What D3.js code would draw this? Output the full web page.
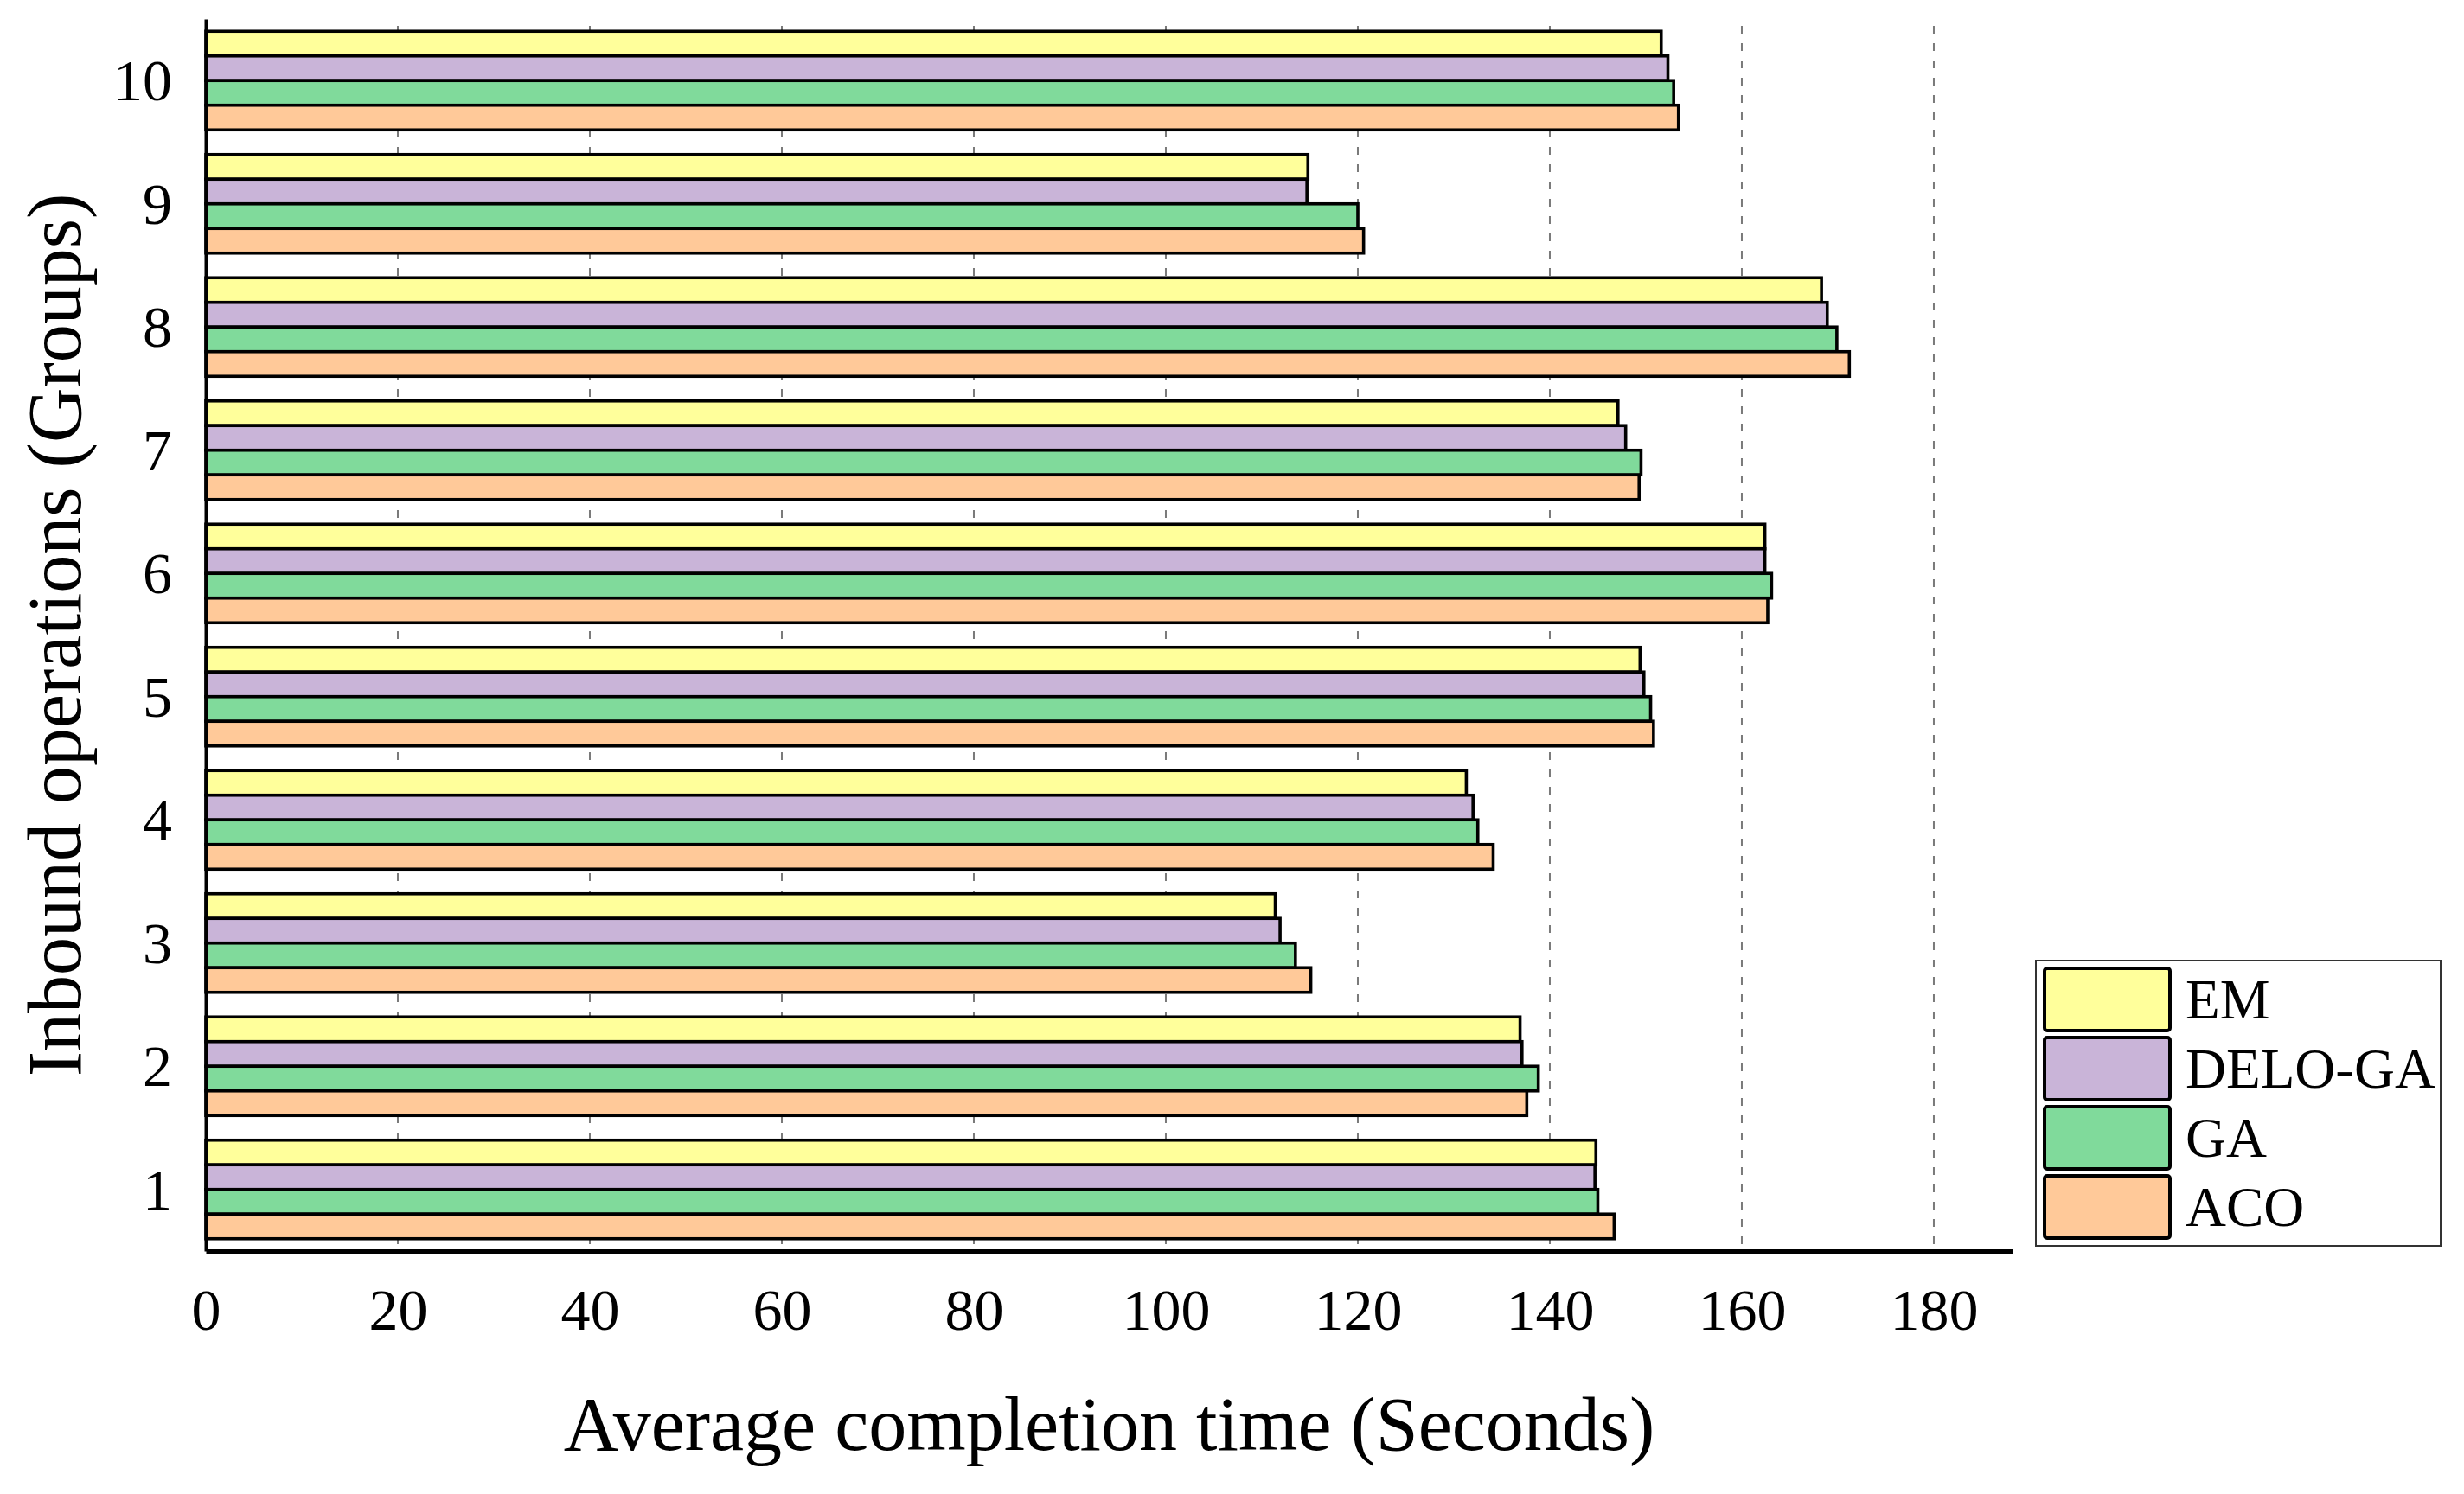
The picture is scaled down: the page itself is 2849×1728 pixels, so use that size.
<!DOCTYPE html>
<html>
<head>
<meta charset="utf-8">
<script src="https://cdn.jsdelivr.net/npm/d3@7"></script>
<style>
  body { margin: 0; background: #fff; }
  text { font-family: 'Liberation Serif', 'Times New Roman', serif; fill: #000; }
</style>
</head>
<body>
<div id="chart"></div>
<script>
const width = 2849
const height = 1728
const margin = { top: 22, right: 522, bottom: 281, left: 238 }

const groups = ['1', '2', '3', '4', '5', '6', '7', '8', '9', '10']
const series = ['EM', 'DELO-GA', 'GA', 'ACO']
const colors = ['#ffff9b', '#c9b4d8', '#80da9b', '#ffc999']
const xTicks = [0, 20, 40, 60, 80, 100, 120, 140, 160, 180]

const emValues = [144.8, 136.9, 111.4, 131.3, 149.4, 162.4, 147.1, 168.3, 114.8, 151.6]
const delogaValues = [144.7, 137.1, 111.9, 132.0, 149.8, 162.4, 147.9, 168.9, 114.7, 152.3]
const gaValues = [145.0, 138.8, 113.5, 132.5, 150.5, 163.1, 149.5, 169.9, 120.0, 152.9]
const acoValues = [146.7, 137.6, 115.1, 134.1, 150.8, 162.7, 149.3, 171.2, 120.6, 153.4]

const valuesBySeries = [emValues, delogaValues, gaValues, acoValues]

const data = groups.flatMap((g, i) =>
  series.map((s, j) => ({ group: g, series: s, value: valuesBySeries[j][i] }))
)

const svg = d3
  .select('#chart')
  .append('svg')
  .attr('width', width)
  .attr('height', height)
  .attr('viewBox', [0, 0, width, height])

const x = d3
  .scaleLinear()
  .domain([0, 188.2])
  .range([margin.left, width - margin.right])

const y = d3
  .scaleBand()
  .domain(groups.slice().reverse())
  .range([margin.top, height - margin.bottom])
  .paddingInner(0.2)
  .paddingOuter(0.1)

const ySub = d3.scaleBand().domain(series).range([0, y.bandwidth()])

const color = d3.scaleOrdinal().domain(series).range(colors)

// dashed grid behind bars
svg
  .append('g')
  .attr('class', 'grid')
  .selectAll('line')
  .data(xTicks.filter(d => d > 0))
  .join('line')
  .attr('x1', d => x(d))
  .attr('x2', d => x(d))
  .attr('y1', margin.top + 8)
  .attr('y2', height - margin.bottom)
  .attr('stroke', '#7a7a7a')
  .attr('stroke-width', 2)
  .attr('stroke-dasharray', '9,11')

svg
  .append('g')
  .attr('class', 'bars')
  .selectAll('rect')
  .data(data)
  .join('rect')
  .attr('x', x(0))
  .attr('y', d => y(d.group) + ySub(d.series))
  .attr('width', d => x(d.value) - x(0))
  .attr('height', ySub.bandwidth())
  .attr('fill', d => color(d.series))
  .attr('stroke', '#000')
  .attr('stroke-width', 3.6)

// x axis
svg
  .append('g')
  .attr('transform', `translate(0,${height - margin.bottom})`)
  .call(d3.axisBottom(x).tickValues(xTicks).tickSize(0).tickPadding(0))
  .call(g => g.select('.domain').attr('stroke', '#000').attr('stroke-width', 5))
  .call(g =>
    g
      .selectAll('text')
      .attr('y', 91)
      .attr('dy', null)
      .attr('font-size', 68)
  )
  .attr('font-family', null)

// y axis
svg
  .append('g')
  .attr('transform', `translate(${margin.left},0)`)
  .call(d3.axisLeft(y).tickSize(0).tickPadding(39))
  .call(g => g.select('.domain').attr('stroke', '#000').attr('stroke-width', 4))
  .call(g =>
    g
      .selectAll('text')
      .attr('dy', '0.34em')
      .attr('font-size', 68)
  )
  .attr('font-family', null)

svg
  .append('text')
  .attr('x', (x.range()[0] + x.range()[1]) / 2)
  .attr('y', 1677)
  .attr('text-anchor', 'middle')
  .attr('font-size', 88)
  .text('Average completion time (Seconds)')

svg
  .append('text')
  .attr('transform', `translate(93,${(margin.top + height - margin.bottom) / 2}) rotate(-90)`)
  .attr('text-anchor', 'middle')
  .attr('font-size', 88)
  .text('Inbound operations (Groups)')

// legend
const legend = svg.append('g').attr('transform', 'translate(2354,1111)')

legend
  .append('rect')
  .attr('width', 468)
  .attr('height', 330)
  .attr('fill', '#fff')
  .attr('stroke', '#333')
  .attr('stroke-width', 2)

const item = legend
  .selectAll('.item')
  .data(series)
  .join('g')
  .attr('class', 'item')
  .attr('transform', (d, i) => `translate(10,${9 + i * 80})`)

item
  .append('rect')
  .attr('width', 145)
  .attr('height', 72)
  .attr('rx', 3)
  .attr('fill', d => color(d))
  .attr('stroke', '#000')
  .attr('stroke-width', 4)

item
  .append('text')
  .attr('x', 163)
  .attr('y', 58)
  .attr('font-size', 65)
  .text(d => d)
</script>
</body>
</html>
